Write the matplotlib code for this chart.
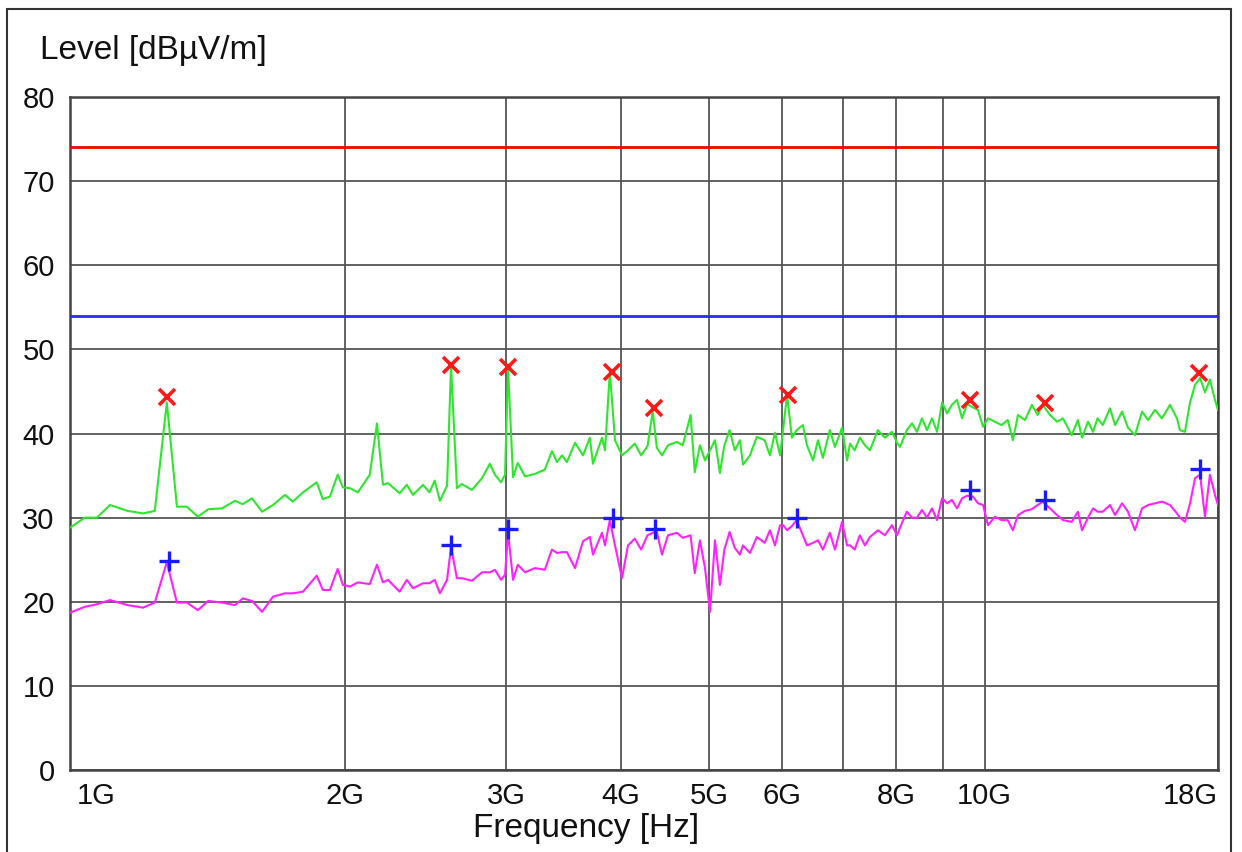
import matplotlib
matplotlib.use('Agg')
import matplotlib.pyplot as plt
from matplotlib.patches import Rectangle
from matplotlib.transforms import ScaledTranslation

plt.rcParams['font.family'] = ['Liberation Sans', 'DejaVu Sans']

# sweep frequencies (GHz), shared by both traces
freq_ghz = [1.000, 1.038, 1.070, 1.106, 1.156, 1.202, 1.238, 1.276, 1.309, 1.342,
            1.380, 1.416, 1.466, 1.515, 1.545, 1.581, 1.622, 1.667, 1.718, 1.752,
            1.798, 1.861, 1.890, 1.924, 1.962, 1.988, 2.024, 2.064, 2.127, 2.166,
            2.199, 2.227, 2.293, 2.335, 2.372, 2.432, 2.472, 2.505, 2.538, 2.584,
            2.610, 2.649, 2.681, 2.751, 2.822, 2.878, 2.915, 2.960, 2.990, 3.013,
            3.051, 3.088, 3.144, 3.225, 3.305, 3.365, 3.408, 3.451, 3.494, 3.566,
            3.639, 3.702, 3.731, 3.817, 3.846, 3.893, 3.944, 4.014, 4.075, 4.145,
            4.212, 4.280, 4.337, 4.382, 4.439, 4.507, 4.609, 4.677, 4.771, 4.821,
            4.884, 4.947, 5.010, 5.073, 5.136, 5.194, 5.263, 5.332, 5.402, 5.443,
            5.540, 5.637, 5.749, 5.825, 5.900, 5.976, 6.021, 6.082, 6.157, 6.231,
            6.330, 6.395, 6.493, 6.575, 6.657, 6.774, 6.862, 6.986, 7.074, 7.127,
            7.211, 7.305, 7.400, 7.494, 7.645, 7.780, 7.921, 8.022, 8.083, 8.222,
            8.329, 8.436, 8.543, 8.650, 8.760, 8.873, 8.986, 9.100, 9.210, 9.330,
            9.450, 9.569, 9.713, 9.836, 9.962, 10.088, 10.264, 10.441, 10.601, 10.740,
            10.878, 11.072, 11.266, 11.429, 11.580, 11.791, 12.003, 12.184, 12.453, 12.650,
            12.781, 12.977, 13.141, 13.291, 13.467, 13.714, 13.891, 14.138, 14.349, 14.603,
            14.868, 15.094, 15.359, 15.629, 15.952, 16.234, 16.355, 16.563, 16.777, 16.991,
            17.206, 17.420, 17.637, 17.864, 18.000]

# peak detector trace (green)
peak_dbuv = [28.8, 30.0, 30.0, 31.5, 30.8, 30.5, 30.8, 43.7, 31.3, 31.3,
             30.1, 31.0, 31.1, 32.0, 31.6, 32.3, 30.7, 31.5, 32.7, 31.9,
             33.0, 34.2, 32.2, 32.5, 35.1, 33.6, 33.5, 33.0, 35.1, 41.2,
             33.9, 34.1, 32.9, 33.9, 32.7, 33.9, 33.0, 34.4, 32.0, 33.8,
             48.1, 33.5, 34.0, 33.3, 34.7, 36.4, 35.1, 34.2, 35.1, 47.8,
             34.8, 36.5, 34.9, 35.2, 35.7, 37.9, 36.6, 37.4, 36.6, 38.9,
             37.4, 39.5, 36.4, 39.5, 38.0, 47.3, 39.2, 37.4, 38.0, 38.8,
             37.4, 38.5, 42.6, 38.3, 37.4, 38.6, 39.0, 38.6, 42.2, 35.4,
             38.6, 36.8, 38.0, 39.2, 35.3, 38.6, 40.4, 38.0, 39.2, 36.3,
             37.4, 39.6, 39.2, 37.4, 40.1, 37.4, 40.4, 44.6, 39.5, 40.4,
             41.0, 38.6, 36.8, 39.2, 37.1, 40.4, 38.4, 40.7, 36.8, 38.8,
             38.0, 39.5, 38.6, 38.0, 40.4, 39.5, 40.2, 38.9, 38.4, 40.4,
             41.2, 40.2, 41.8, 40.4, 41.8, 40.2, 43.7, 42.4, 43.4, 44.0,
             41.8, 43.5, 43.1, 42.8, 40.8, 41.8, 41.4, 41.0, 41.6, 39.2,
             42.2, 41.6, 43.4, 42.2, 43.4, 42.2, 41.4, 41.8, 39.8, 41.6,
             39.5, 41.4, 40.2, 41.8, 41.0, 43.0, 41.0, 42.6, 40.7, 39.8,
             42.6, 41.6, 42.8, 41.8, 43.4, 41.8, 40.4, 40.2, 43.7, 45.8,
             46.6, 44.9, 46.4, 44.0, 42.8]

# average detector trace (magenta)
avg_dbuv = [18.7, 19.4, 19.7, 20.2, 19.6, 19.3, 19.9, 24.7, 19.9, 19.9,
            19.0, 20.1, 19.9, 19.6, 20.4, 20.1, 18.8, 20.6, 21.0, 21.0,
            21.2, 23.1, 21.4, 21.4, 23.9, 22.0, 21.8, 22.3, 22.1, 24.4,
            22.3, 22.6, 21.2, 22.6, 21.6, 22.2, 22.2, 22.6, 21.0, 22.6,
            26.5, 22.8, 22.8, 22.5, 23.5, 23.5, 23.8, 22.6, 23.2, 28.2,
            22.6, 24.4, 23.5, 24.0, 23.8, 26.2, 25.8, 25.9, 25.9, 24.0,
            27.2, 27.7, 25.6, 28.2, 26.7, 29.7, 26.7, 22.8, 26.7, 27.5,
            26.2, 27.9, 28.2, 28.3, 25.6, 27.9, 28.2, 27.6, 27.9, 23.4,
            27.3, 24.0, 18.8, 27.3, 22.0, 26.2, 28.3, 26.4, 25.6, 26.7,
            25.8, 27.7, 27.0, 28.5, 26.7, 29.1, 29.1, 28.5, 29.0, 29.7,
            27.9, 26.7, 27.0, 27.3, 26.2, 28.2, 26.2, 29.5, 26.7, 26.7,
            26.2, 27.9, 26.7, 27.7, 28.5, 27.9, 29.1, 27.9, 28.8, 30.7,
            30.0, 30.0, 30.9, 30.0, 31.1, 29.7, 32.3, 31.7, 32.1, 31.1,
            32.3, 32.6, 32.5, 31.7, 31.5, 29.1, 30.1, 29.7, 29.7, 28.5,
            30.3, 30.8, 31.0, 31.5, 31.9, 31.1, 30.3, 29.7, 29.5, 30.7,
            28.5, 30.0, 31.1, 30.7, 30.7, 31.5, 30.3, 31.7, 30.7, 28.5,
            31.1, 31.5, 31.7, 31.9, 31.5, 30.5, 30.0, 29.5, 31.7, 34.7,
            35.1, 30.1, 35.1, 32.7, 31.5]

# final measurement points
peak_mark_f = [1.276, 2.610, 3.013, 3.913, 4.348, 6.097, 9.641, 11.640, 17.163]
peak_mark_v = [44.3, 48.1, 47.9, 47.3, 43.0, 44.6, 44.0, 43.6, 47.2]
avg_mark_f = [1.283, 2.610, 3.013, 3.923, 4.360, 6.231, 9.641, 11.640, 17.206]
avg_mark_v = [24.9, 26.8, 28.6, 30.0, 28.6, 29.9, 33.3, 32.1, 35.8]

limit_peak = 74
limit_avg = 54

tick_f = [1, 2, 3, 4, 5, 6, 7, 8, 9, 10, 18]
tick_lbl = ['1G', '2G', '3G', '4G', '5G', '6G', '', '8G', '', '10G', '18G']
ytick = [0, 10, 20, 30, 40, 50, 60, 70, 80]

W, H = 1242, 852
fig = plt.figure(figsize=(W / 100, H / 100), dpi=100)
ax = fig.add_axes([70 / W, 1 - 770 / H, 1148 / W, 673 / H])

ax.axhline(limit_peak, color='#ff0000', lw=2.0, zorder=3)
ax.axhline(limit_avg, color='#2828ff', lw=2.0, zorder=3)
ax.plot(freq_ghz, peak_dbuv, color='#2ee62e', lw=1.5, zorder=4)
ax.plot(freq_ghz, avg_dbuv, color='#ff22ff', lw=1.5, zorder=4)
ax.plot(peak_mark_f, peak_mark_v, 'x', color='#ff1a1a', ms=12, mew=2.6, zorder=5)
ax.plot(avg_mark_f, avg_mark_v, '+', color='#1a1aff', ms=15, mew=2.4, zorder=5)

ax.set_xscale('log')
ax.set_xlim(1, 18)
ax.set_ylim(0, 80)
ax.set_xticks(tick_f)
ax.set_xticklabels(tick_lbl)
ax.minorticks_off()
ax.set_yticks(ytick)
ax.grid(True, color='#555555', lw=1.3)
ax.set_axisbelow(True)
ax.tick_params(length=0, labelsize=21, colors='#111111')
ax.tick_params(axis='y', pad=11)
ax.tick_params(axis='x', pad=9)
labels = ax.get_xticklabels()
labels[0].set_ha('left')
labels[0].set_transform(labels[0].get_transform() + ScaledTranslation(7 / 100, 0, fig.dpi_scale_trans))
labels[-1].set_ha('right')
for s in ax.spines.values():
    s.set_color('#444444')
    s.set_linewidth(1.8)

fig.text(40 / W, 1 - 50 / H, 'Level [dBµV/m]', fontsize=24, ha='left', va='center', color='#111111')
fig.text(586 / W, 1 - 829 / H, 'Frequency [Hz]', fontsize=24, ha='center', va='center', color='#111111')

fig.patches.append(Rectangle((7 / W, -0.02), 1224 / W, 1.02 - 9 / H, transform=fig.transFigure,
                             fill=False, edgecolor='#333333', lw=1.5))

fig.savefig('out.png', dpi=100)
